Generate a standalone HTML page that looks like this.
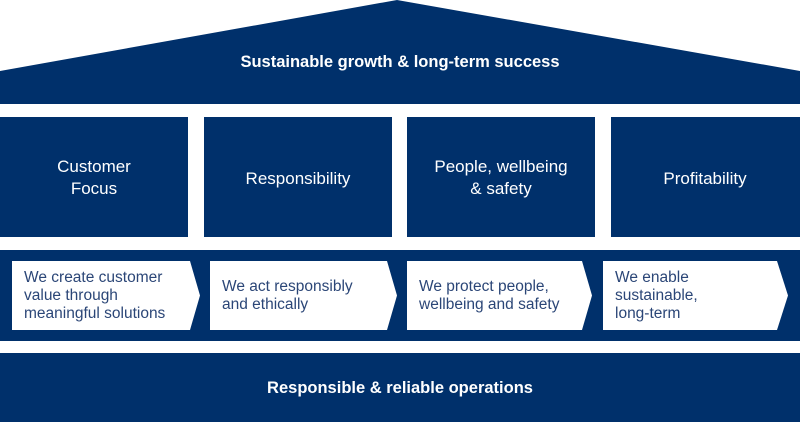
<!DOCTYPE html>
<html><head><meta charset="utf-8"><style>
body{margin:0;width:800px;height:424px;background:#fff;overflow:hidden;font-family:"Liberation Sans",sans-serif}
</style></head><body>
<svg width="800" height="424" xmlns="http://www.w3.org/2000/svg" font-family="Liberation Sans, sans-serif">
<polygon points="0,71 397,0 800,71 800,104 0,104" fill="#00306b"/>
<text x="400" y="67" fill="#fff" font-size="16.5" font-weight="bold" text-anchor="middle">Sustainable growth &amp; long-term success</text>
<g fill="#00306b">
<rect x="0" y="117" width="188" height="120"/>
<rect x="204" y="117" width="188" height="120"/>
<rect x="407" y="117" width="188" height="120"/>
<rect x="611" y="117" width="189" height="120"/>
<rect x="0" y="250" width="800" height="91"/>
<rect x="0" y="353" width="800" height="69"/>
</g>
<g fill="#fff" font-size="17" text-anchor="middle">
<text x="94" y="172">Customer</text><text x="94" y="194">Focus</text>
<text x="298" y="184">Responsibility</text>
<text x="501" y="172">People, wellbeing</text><text x="501" y="194">&amp; safety</text>
<text x="705" y="184">Profitability</text>
<text x="400" y="393" font-weight="bold" font-size="16.5">Responsible &amp; reliable operations</text>
</g>
<g fill="#fff">
<polygon points="12,261 190,261 200,295.5 190,330 12,330"/>
<polygon points="210,261 387,261 397,295.5 387,330 210,330"/>
<polygon points="407,261 582,261 592,295.5 582,330 407,330"/>
<polygon points="603,261 777,261 788,295.5 777,330 603,330"/>
</g>
<g fill="#2b4677" font-size="15.5">
<text x="24" y="282">We create customer</text><text x="24" y="300">value through</text><text x="24" y="318">meaningful solutions</text>
<text x="222" y="291">We act responsibly</text><text x="222" y="309">and ethically</text>
<text x="419" y="291">We protect people,</text><text x="419" y="309">wellbeing and safety</text>
<text x="615" y="282">We enable</text><text x="615" y="300">sustainable,</text><text x="615" y="318">long-term</text>
</g>
</svg>
</body></html>
